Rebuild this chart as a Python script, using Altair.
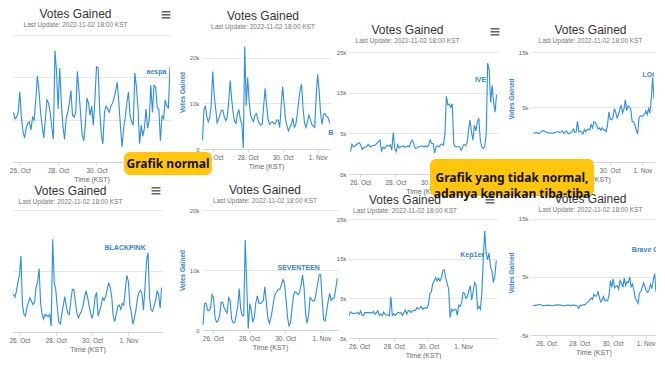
import altair as alt
import pandas as pd

# ---------------- data (votes gained, in thousands; 2-hour steps) ----------------
aespa_k = [11.7, 10.2, 10.6, 11.7, 16.6, 10.6, 7.2, 5.7, 8.0, 9.1,
           9.5, 7.6, 10.6, 9.9, 14.7, 20.3, 16.9, 11.7, 8.4, 5.7,
           10.2, 14.7, 13.9, 11.7, 8.4, 5.4, 26.3, 21.4, 12.5, 22.2,
           13.9, 8.4, 5.4, 10.2, 11.7, 13.9, 16.9, 11.0, 10.6, 11.7,
           21.4, 16.9, 11.7, 6.5, 5.0, 8.7, 15.1, 13.9, 11.0, 13.2,
           8.7, 14.7, 22.5, 22.2, 12.5, 6.5, 4.3, 11.7, 13.2, 12.5,
           11.7, 13.2, 13.9, 15.1, 16.9, 18.8, 13.9, 8.4, 3.5, 8.0,
           10.6, 13.9, 16.6, 11.0, 9.5, 8.7, 21.0, 17.7, 12.5, 4.3,
           8.7, 6.1, 8.0, 12.5, 8.0, 9.9, 18.1, 11.7, 18.1, 17.7,
           12.8, 12.5, 5.0, 11.0, 10.2, 14.7, 13.2, 12.8, 22.5]
bts_k = [2.0, 8.5, 9.5, 7.0, 6.0, 7.0, 9.5, 17.0, 12.0, 9.0,
         5.8, 6.5, 7.5, 8.5, 8.5, 7.0, 6.2, 7.0, 10.5, 15.0,
         11.0, 8.0, 6.0, 5.6, 7.8, 8.5, 6.5, 5.5, 0.2, 22.5,
         9.5, 15.7, 10.5, 7.5, 6.5, 6.0, 7.5, 7.8, 6.5, 5.6,
         5.2, 5.5, 9.5, 13.3, 9.5, 6.5, 5.4, 5.8, 6.0, 5.6,
         5.5, 6.4, 6.3, 4.7, 9.5, 13.7, 10.0, 6.5, 5.0, 4.0,
         4.8, 5.4, 6.8, 4.8, 5.3, 7.5, 10.5, 13.0, 14.2, 9.0,
         5.7, 4.7, 6.0, 7.5, 6.5, 5.4, 5.0, 4.7, 11.5, 16.4,
         13.0, 8.0, 5.4, 7.5, 7.8, 7.2, 7.0, 6.0, 5.4]
ive_k = [0.5, 2.3, 1.7, 1.9, 2.2, 2.5, 2.7, 2.1, 1.1, 1.4,
         1.7, 1.7, 2.3, 1.9, 1.7, 2.0, 2.0, 2.2, 2.6, 3.0,
         3.3, 0.7, 1.6, 1.3, 1.7, 2.1, 1.8, 2.2, 0.9, 5.2,
         1.3, 0.5, 2.2, 1.4, 1.7, 1.7, 1.9, 1.6, 1.7, 1.9,
         1.7, 2.9, 3.3, 2.3, 1.3, 1.4, 1.7, 1.7, 1.9, 1.9,
         1.7, 1.9, 1.7, 2.1, 3.4, 2.5, 2.5, 0.2, 1.7, 1.9,
         1.7, 2.1, 2.4, 2.1, 4.8, 14.1, 12.0, 12.2, 11.4, 12.2,
         2.5, 1.7, 1.7, 1.7, 1.7, 0.8, 1.6, 2.3, 2.0, 2.5,
         5.6, 8.3, 5.4, 3.3, 7.0, 5.6, 7.9, 8.7, 3.3, 1.7,
         1.3, 1.7, 4.8, 22.3, 20.7, 12.6, 16.8, 12.6, 10.2, 14.5]
loona_k = [0.2, 0.3, 0.4, 0.2, 0.2, 0.4, 0.6, 0.7, 0.65, 0.4,
           0.35, 0.3, 0.2, 0.3, 0.2, 0.35, 0.4, 0.45, 0.5, 0.4,
           0.45, 0.65, 0.2, 0.4, 0.65, 0.2, 0.15, 0.35, 0.5, 1.0,
           0.4, 0.45, 2.4, 0.5, 0.6, 0.4, 0.1, 0.9, 0.5, 0.85,
           1.0, 0.8, 1.8, 1.15, 2.3, 2.25, 1.7, 1.0, 1.2, 0.8,
           1.2, 0.8, 0.85, 0.5, 1.8, 4.1, 2.7, 2.7, 3.1, 4.7,
           4.0, 3.0, 3.6, 4.6, 5.4, 3.9, 4.6, 6.3, 4.4, 5.2,
           5.0, 4.6, 2.4, 2.3, 1.8, 0.8, 0.1, 3.0, 3.4, 3.3,
           3.4, 3.7, 4.3, 3.6, 4.7, 3.9, 6.4, 10.4, 6.4]
blackpink_k = [6.2, 5.7, 6.7, 8.1, 9.3, 12.5, 4.4, 2.9, 2.6, 4.1,
               4.9, 5.6, 5.0, 4.5, 4.9, 7.3, 8.2, 10.4, 4.7, 2.9,
               2.1, 2.9, 2.7, 2.5, 2.9, 1.0, 15.2, 8.1, 7.0, 4.1,
               1.6, 1.3, 2.9, 4.4, 5.8, 4.2, 3.1, 2.9, 5.2, 7.0,
               7.0, 4.9, 3.1, 2.3, 2.9, 3.4, 4.2, 5.6, 6.8, 5.8,
               4.4, 3.1, 2.2, 3.4, 5.7, 6.5, 2.6, 3.4, 4.4, 5.6,
               5.2, 5.8, 6.9, 8.1, 7.3, 5.8, 2.6, 1.7, 2.9, 4.2,
               4.4, 3.7, 4.7, 4.4, 6.9, 9.3, 8.3, 4.4, 3.1, 1.3,
               2.3, 3.6, 5.5, 6.5, 6.8, 6.3, 3.6, 7.3, 11.7, 13.0,
               5.7, 3.6, 3.4, 4.2, 5.2, 6.7, 6.2, 3.9, 7.3]
seventeen_k = [0.9, 4.4, 4.5, 3.3, 3.2, 3.7, 5.9, 5.4, 2.0, 1.3,
               1.5, 2.3, 4.6, 4.6, 3.7, 3.2, 2.8, 5.4, 4.9, 1.8,
               1.2, 1.2, 2.5, 3.9, 6.9, 3.4, 2.4, 2.4, 15.0, 7.5,
               0.2, 4.4, 3.3, 1.3, 2.1, 4.5, 5.7, 4.5, 4.4, 4.6,
               4.9, 7.2, 4.6, 2.0, 1.1, 2.0, 3.4, 5.1, 6.1, 6.4,
               6.8, 6.8, 7.5, 8.4, 7.8, 5.2, 2.2, 0.7, 1.2, 3.6,
               5.8, 6.4, 6.2, 5.9, 6.2, 7.5, 9.2, 7.0, 2.8, 1.1,
               2.5, 5.4, 5.1, 4.8, 4.9, 6.2, 7.7, 9.2, 9.2, 5.0,
               1.7, 1.5, 3.1, 4.9, 6.1, 4.9, 5.3, 5.3, 6.9, 8.6]
kep1er_k = [0.6, 1.6, 1.3, 1.2, 1.2, 1.3, 1.4, 1.0, 1.8, 0.7,
            0.6, 1.4, 1.4, 1.4, 1.4, 1.4, 1.3, 1.7, 1.0, 1.4,
            1.9, 0.7, 1.0, 0.6, 1.5, 1.0, 0.7, 0.9, 0.6, 5.4,
            0.7, 1.1, 0.7, 1.1, 1.5, 1.3, 1.4, 0.7, 1.4, 2.1,
            1.0, 1.8, 1.9, 1.4, 1.9, 2.0, 1.9, 2.7, 2.3, 2.6,
            3.0, 2.2, 2.6, 2.6, 2.5, 3.4, 6.2, 6.6, 8.7, 9.4,
            10.3, 9.4, 10.1, 9.4, 10.2, 12.1, 12.2, 10.2, 8.7, 7.4,
            0.2, 2.3, 1.8, 2.2, 2.3, 0.7, 3.3, 3.0, 3.9, 6.5,
            6.2, 5.0, 5.5, 7.0, 8.2, 4.6, 6.8, 9.0, 8.4, 2.4,
            3.0, 2.2, 6.2, 15.0, 22.0, 16.2, 14.8, 16.4, 13.0, 11.8,
            9.0, 10.6, 14.6]
bravegirls_k = [0.05, 0.1, 0.15, 0.15, 0.2, 0.3, 0.15, 0.05, 0.05, 0.1,
                0.15, 0.1, 0.1, 0.05, 0.05, 0.1, 0.15, 0.15, 0.2, 0.2,
                0.15, 0.1, 0.05, 0.05, 0.1, 0.15, 0.15, 0.1, 0.1, 0.15,
                0.15, 0.05, 0.0, -0.4, 0.1, 0.1, 0.2, 0.2, 0.3, 0.65,
                0.7, 1.1, 1.35, 1.1, 2.0, 1.7, 1.75, 2.45, 1.5, 0.7,
                1.05, 1.65, 0.9, 1.0, 0.9, 1.9, 4.4, 3.2, 4.7, 3.1,
                3.4, 3.5, 2.9, 4.4, 3.9, 3.2, 4.8, 3.5, 4.2, 4.0,
                5.0, 3.3, 3.8, 2.7, 1.3, 0.9, 0.45, 2.2, 2.45, 3.2,
                4.0, 3.3, 2.6, 2.35, 2.8, 3.7, 3.1, 4.4, 5.6, 2.45]

series_names = ["aespa", "B", "IVE", "LOONA", "BLACKPINK", "SEVENTEEN", "Kep1er", "Brave Girls"]
series_starts = ["2022-10-25 16:00", "2022-10-25 10:00", "2022-10-25 11:00", "2022-10-25 09:00",
                 "2022-10-25 16:00", "2022-10-25 11:00", "2022-10-25 10:00", "2022-10-25 05:00"]
x_tick_days = [(10, 26), (10, 28), (10, 30), (11, 1)]
y_ticks_0_30 = [0, 5, 10, 15, 20, 25, 30]
y_ticks_0_25 = [0, 5, 10, 15, 20, 25]
y_ticks_m5_25 = [-5, 0, 5, 10, 15, 20, 25]
y_ticks_m5_15 = [-5, 0, 5, 10, 15]
y_ticks_0_20 = [0, 5, 10, 15, 20]

TITLE = "Votes Gained"
SUBTITLE = "Last Update: 2022-11-02 18:00 KST"
NOTE_1 = "Grafik normal"
NOTE_2 = "Grafik yang tidak normal,\nadanya kenaikan tiba-tiba"

LINE = "#2b8ee0"
LABEL = "#3a84c9"
GRID = "#e6e6e6"
AX = "#ccd6eb"
YELLOW = "#FFC60B"
FONT = "Liberation Sans"


def dt(m, d, hh=0, mm=0):
    return alt.DateTime(year=2022, month=m, date=d, hours=hh, minutes=mm)


def text_layer(txt, x, y, **style):
    return alt.Chart(pd.DataFrame({"t": [txt]})).mark_text(**style).encode(
        x=alt.value(x), y=alt.value(y), text="t:N")


def panel(values, start, name, x_dom, y_dom, y_ticks, w, h, y_mode,
          lab_time, lab_val, lab_align, title_dx, title_y, menu=None, extra=None,
          clip_label=False):
    df = pd.DataFrame({"time": pd.date_range(start, periods=len(values), freq="2h"),
                       "votes": values})
    x_enc = alt.X("time:T", scale=alt.Scale(domain=list(x_dom)),
                  axis=alt.Axis(values=[dt(m, d) for m, d in x_tick_days],
                                labelExpr="timeFormat(datum.value, '%-d. %b')",
                                title="Time (KST)", grid=False, tickSize=3,
                                tickColor=AX, domainColor=AX, labelColor="#666",
                                labelFontSize=6.5, titleFontSize=7, titleColor="#666",
                                titleFontWeight="normal", labelPadding=2, titlePadding=2))
    yax = dict(values=y_ticks, grid=True, gridColor=GRID, domain=False, ticks=False,
               labelColor="#666", labelFontSize=6,
               labelExpr="datum.value == 0 ? '0' : datum.value + 'k'", labelPadding=3)
    if y_mode == "none":
        yax.update(labels=False, title=None)
    elif y_mode == "labels":
        yax.update(title=None)
    else:
        yax.update(title="Votes Gained", titleColor=LABEL, titleFontSize=6.5,
                   titleFontWeight="bold", titlePadding=4)
    y_enc = alt.Y("votes:Q", scale=alt.Scale(domain=list(y_dom), nice=False, zero=False),
                  axis=alt.Axis(**yax))
    line = alt.Chart(df).mark_line(color=LINE, strokeWidth=1.1, clip=True).encode(x=x_enc, y=y_enc)
    lab = alt.Chart(pd.DataFrame({"time": [pd.Timestamp(lab_time)], "votes": [lab_val],
                                  "label": [name]})).mark_text(
        align=lab_align, baseline="middle", fontWeight="bold", fontSize=7, color=LABEL,
        font=FONT, clip=clip_label).encode(x="time:T", y="votes:Q", text="label:N")
    layers = [line, lab,
              text_layer(TITLE, w / 2 + title_dx, title_y, font=FONT, fontSize=12,
                         color="#333", align="center", baseline="middle"),
              text_layer(SUBTITLE, w / 2 + title_dx, title_y + 11, font=FONT, fontSize=6.5,
                         color="#777", align="center", baseline="middle")]
    if menu is not None:
        layers.append(text_layer("\u2261", menu[0], menu[1], font="DejaVu Sans", fontSize=14,
                                 fontWeight="bold", color="#666", align="center",
                                 baseline="middle"))
    if extra:
        layers += extra
    return alt.layer(*layers).properties(width=w, height=h)


def note(text, x1, x2, y1, y2, fs):
    box = alt.Chart(pd.DataFrame({"n": [0]})).mark_rect(color=YELLOW, cornerRadius=6).encode(
        x=alt.value(x1), x2=alt.value(x2), y=alt.value(y1), y2=alt.value(y2))
    txt = text_layer(text, (x1 + x2) / 2, (y1 + y2) / 2, font="Noto Sans", fontWeight="bold",
                     fontSize=fs, color="#111", lineBreak="\n", lineHeight=16,
                     align="center", baseline="middle")
    return [box, txt]


def spacer(wid, hgt):
    return alt.Chart(pd.DataFrame({"s": [0]})).mark_point(opacity=0, size=1).encode(
        x=alt.X("s:Q", axis=None), y=alt.Y("s:Q", axis=None)).properties(width=wid, height=hgt)


# panels 3, 4, 7, 8 sit lower in their screenshots: their y domain keeps a blank band on top
p1 = panel(aespa_k, series_starts[0], series_names[0], (dt(10, 25, 15, 30), dt(11, 2, 20)),
           (0, 30), y_ticks_0_30, 157, 127, "none", "2022-11-02 15:30", 21.2, "right", -16, -21,
           menu=(153, -20))
p2 = panel(bts_k, series_starts[1], series_names[1], (dt(10, 25, 9, 20), dt(11, 1, 17)),
           (0, 25), y_ticks_0_25, 128, 114, "full", "2022-11-01 14:30", 3.6, "left", -3, -19,
           extra=note(NOTE_1, -78, 10, 117, 140, 12))
p3 = panel(ive_k, series_starts[2], series_names[2], (dt(10, 25, 9), dt(11, 2, 19)),
           (-5, 29.2), y_ticks_m5_25, 149, 139, "labels", "2022-11-02 03:00", 18.2, "right", -16, -5,
           menu=(146, -3))
p4 = panel(loona_k, series_starts[3], series_names[3], (dt(10, 25, 5), dt(11, 1, 17)),
           (-5, 18.1), y_ticks_m5_15, 123, 127, "full", "2022-11-01 00:00", 10.9, "left", -2, -5,
           clip_label=True)
p5 = panel(blackpink_k, series_starts[4], series_names[4], (dt(10, 25, 15, 30), dt(11, 2, 20, 30)),
           (0, 20), y_ticks_0_20, 149, 122, "none", "2022-11-01 23:00", 13.8, "right", -17, -19,
           menu=(143, -19))
p6 = panel(seventeen_k, series_starts[5], series_names[5], (dt(10, 25, 9, 40), dt(11, 1, 22)),
           (0, 20), y_ticks_0_20, 136, 120, "full", "2022-10-31 22:00", 10.3, "right", -5, -20)
p7 = panel(kep1er_k, series_starts[6], series_names[6], (dt(10, 25, 10), dt(11, 2, 23)),
           (-5, 27.3), y_ticks_m5_25, 148, 128, "labels", "2022-11-02 05:00", 15.9, "right", -18, -10,
           menu=(141, -10))
p8 = panel(bravegirls_k, series_starts[7], series_names[7], (dt(10, 25, 2), dt(11, 1, 15)),
           (-5, 16.55), y_ticks_m5_15, 125, 125, "full", "2022-10-31 04:00", 9.7, "left", -3, -11,
           clip_label=True, extra=note(NOTE_2, -101, 63, -51, -14, 12))

# 7-column grid: panel, gap, panel, gap, panel, gap, panel
cells = [
    p1, spacer(32, 1), p2, spacer(11, 1), p3, spacer(33, 1), p4,
    p5, spacer(32, 1), p6, spacer(11, 1), p7, spacer(33, 1), p8,
]

chart = alt.concat(
    *cells, columns=7, spacing={"row": 36, "column": 0}, bounds="flush", align="each"
).properties(padding=0, background="white").configure_view(stroke=None).configure_axis(
    labelFont=FONT, titleFont=FONT)

chart.save("out.html", embed_options={"renderer": "svg", "actions": False})
